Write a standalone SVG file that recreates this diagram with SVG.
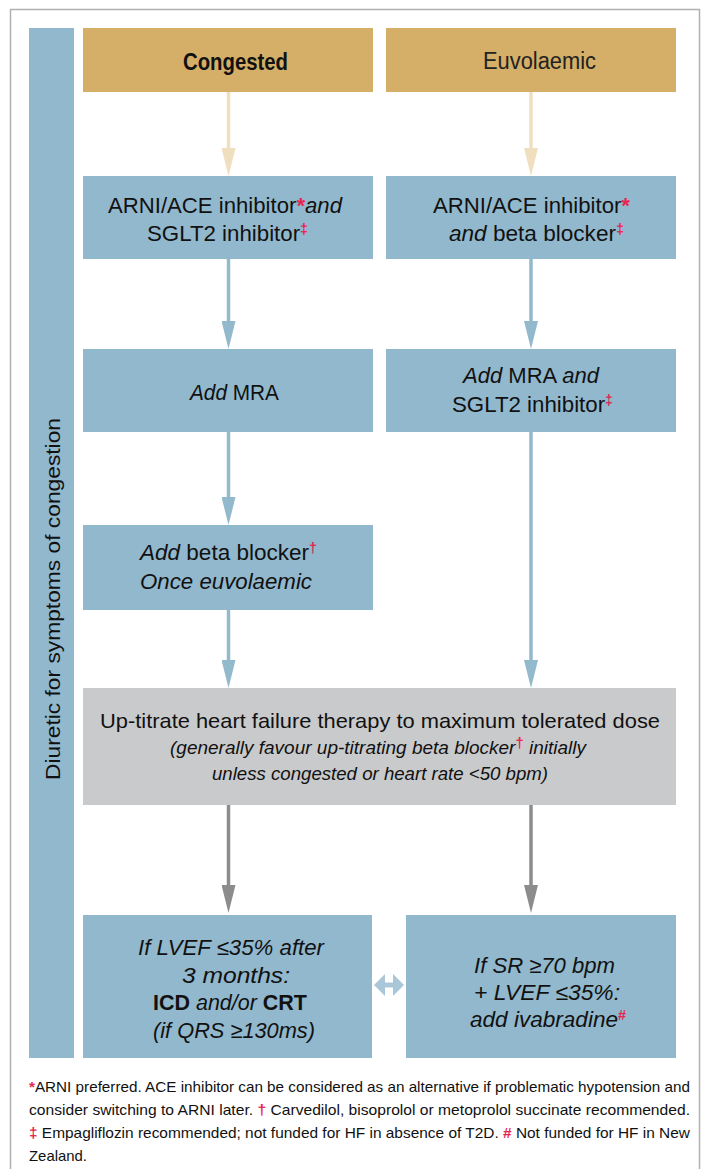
<svg xmlns="http://www.w3.org/2000/svg" width="705" height="1169" viewBox="0 0 705 1169">
<style>
.t{font-family:"Liberation Sans",Arial,sans-serif;fill:#111;font-size:22px}
.hd{font-size:23px}
.i{font-style:italic}
.bd{font-weight:bold}
.r{fill:#e52651;font-weight:bold}
.sup{font-size:14px;fill:#e52651;font-weight:bold;font-style:normal}
.gs{font-size:18px;font-style:italic}
.fn{font-size:15px}
.blue{fill:#91b8cd}
.tan{fill:#d5ae67}
.gray{fill:#c9cacc}
</style>
<defs>
<marker id="hTan" viewBox="0 -7 28 14" refX="4" refY="0" markerWidth="28" markerHeight="14" markerUnits="userSpaceOnUse" orient="auto"><path d="M0,-7 L28,0 L0,7 z" fill="#efdfbf"/></marker>
<marker id="hBlue" viewBox="0 -7 28 14" refX="4" refY="0" markerWidth="28" markerHeight="14" markerUnits="userSpaceOnUse" orient="auto"><path d="M0,-7 L28,0 L0,7 z" fill="#93b9cd"/></marker>
<marker id="hGray" viewBox="0 -7 28 14" refX="4" refY="0" markerWidth="28" markerHeight="14" markerUnits="userSpaceOnUse" orient="auto"><path d="M0,-7 L28,0 L0,7 z" fill="#8c8c8c"/></marker>
<marker id="hDbl" viewBox="0 -11 11 22" refX="2" refY="0" markerWidth="11" markerHeight="22" markerUnits="userSpaceOnUse" orient="auto-start-reverse"><path d="M0,-11 L11,0 L0,11 z" fill="#a9c7d8"/></marker>
</defs>
<rect x="10.5" y="9.5" width="689" height="1180" fill="#fff" stroke="#b0b0b0" stroke-width="1.5"/>

<g id="sidebar">
<rect x="29" y="28" width="45" height="1030" class="blue"/>
<text class="t" text-anchor="middle" textLength="362" lengthAdjust="spacingAndGlyphs" transform="translate(60,599) rotate(-90)" style="font-size:21px">Diuretic for symptoms of congestion</text>
</g>

<g id="connectors" fill="none">
<line x1="228.5" y1="92" x2="228.5" y2="152" stroke="#efdfbf" stroke-width="3.5" marker-end="url(#hTan)"/>
<line x1="531" y1="92" x2="531" y2="152" stroke="#efdfbf" stroke-width="3.5" marker-end="url(#hTan)"/>
<line x1="228.5" y1="259" x2="228.5" y2="325" stroke="#93b9cd" stroke-width="3.5" marker-end="url(#hBlue)"/>
<line x1="531" y1="259" x2="531" y2="325" stroke="#93b9cd" stroke-width="3.5" marker-end="url(#hBlue)"/>
<line x1="228.5" y1="432" x2="228.5" y2="501" stroke="#93b9cd" stroke-width="3.5" marker-end="url(#hBlue)"/>
<line x1="228.5" y1="610" x2="228.5" y2="664" stroke="#93b9cd" stroke-width="3.5" marker-end="url(#hBlue)"/>
<line x1="531" y1="432" x2="531" y2="664" stroke="#93b9cd" stroke-width="3.5" marker-end="url(#hBlue)"/>
<line x1="228.5" y1="805" x2="228.5" y2="889" stroke="#8c8c8c" stroke-width="3.5" marker-end="url(#hGray)"/>
<line x1="531" y1="805" x2="531" y2="889" stroke="#8c8c8c" stroke-width="3.5" marker-end="url(#hGray)"/>
<line x1="383" y1="985" x2="395" y2="985" stroke="#a9c7d8" stroke-width="5" marker-start="url(#hDbl)" marker-end="url(#hDbl)"/>
</g>

<g id="congested">
<rect x="83" y="28" width="290" height="64" class="tan"/>
<text class="t hd bd" x="183" y="70" textLength="105" lengthAdjust="spacingAndGlyphs">Congested</text>
</g>
<g id="euvolaemic">
<rect x="386" y="28" width="290" height="64" class="tan"/>
<text class="t hd" x="483" y="69" textLength="113" lengthAdjust="spacingAndGlyphs" style="fill:#222">Euvolaemic</text>
</g>

<g id="arni-left">
<rect x="83" y="176" width="290" height="83" class="blue"/>
<text class="t" x="108" y="213" textLength="234" lengthAdjust="spacingAndGlyphs">ARNI/ACE inhibitor<tspan class="r">*</tspan><tspan class="i">and</tspan></text>
<text class="t" x="147" y="241" textLength="161" lengthAdjust="spacingAndGlyphs">SGLT2 inhibitor<tspan class="sup" dy="-7">‡</tspan></text>
</g>
<g id="arni-right">
<rect x="386" y="176" width="290" height="83" class="blue"/>
<text class="t" x="433" y="213" textLength="197" lengthAdjust="spacingAndGlyphs">ARNI/ACE inhibitor<tspan class="r">*</tspan></text>
<text class="t" x="449" y="241" textLength="175" lengthAdjust="spacingAndGlyphs"><tspan class="i">and</tspan> beta blocker<tspan class="sup" dy="-7">‡</tspan></text>
</g>

<g id="mra-left">
<rect x="83" y="349" width="290" height="83" class="blue"/>
<text class="t" x="190" y="400" textLength="89" lengthAdjust="spacingAndGlyphs"><tspan class="i">Add</tspan> MRA</text>
</g>
<g id="mra-right">
<rect x="386" y="349" width="290" height="83" class="blue"/>
<text class="t" x="463" y="383" textLength="136" lengthAdjust="spacingAndGlyphs"><tspan class="i">Add</tspan> MRA <tspan class="i">and</tspan></text>
<text class="t" x="452" y="412" textLength="161" lengthAdjust="spacingAndGlyphs">SGLT2 inhibitor<tspan class="sup" dy="-7">‡</tspan></text>
</g>

<g id="beta-left">
<rect x="83" y="525" width="290" height="85" class="blue"/>
<text class="t" x="140" y="560" textLength="177" lengthAdjust="spacingAndGlyphs"><tspan class="i">Add</tspan> beta blocker<tspan class="sup" dy="-7">†</tspan></text>
<text class="t i" x="140" y="589" textLength="172" lengthAdjust="spacingAndGlyphs">Once euvolaemic</text>
</g>

<g id="uptitrate">
<rect x="83" y="688" width="593" height="117" class="gray"/>
<text class="t" x="100" y="728" textLength="560" lengthAdjust="spacingAndGlyphs" style="font-size:21px">Up-titrate heart failure therapy to maximum tolerated dose</text>
<text class="t gs" x="170" y="754" textLength="416" lengthAdjust="spacingAndGlyphs">(generally favour up-titrating beta blocker<tspan class="sup" dy="-6">†</tspan><tspan dy="6"> initially</tspan></text>
<text class="t gs" x="212" y="780" textLength="336" lengthAdjust="spacingAndGlyphs">unless congested or heart rate &lt;50 bpm)</text>
</g>

<g id="icd-crt">
<rect x="83" y="915" width="289" height="143" class="blue"/>
<text class="t i" x="138" y="955" textLength="186" lengthAdjust="spacingAndGlyphs">If LVEF ≤35% after</text>
<text class="t i" x="182" y="983" textLength="108" lengthAdjust="spacingAndGlyphs">3 months:</text>
<text class="t" x="153" y="1010" textLength="154" lengthAdjust="spacingAndGlyphs"><tspan class="bd">ICD</tspan> <tspan class="i">and/or</tspan> <tspan class="bd">CRT</tspan></text>
<text class="t i" x="153" y="1038" textLength="162" lengthAdjust="spacingAndGlyphs">(if QRS ≥130ms)</text>
</g>

<g id="ivabradine">
<rect x="406" y="915" width="270" height="143" class="blue"/>
<text class="t i" x="474" y="973" textLength="141" lengthAdjust="spacingAndGlyphs">If SR ≥70 bpm</text>
<text class="t i" x="474" y="1000" textLength="146" lengthAdjust="spacingAndGlyphs">+ LVEF ≤35%:</text>
<text class="t i" x="470" y="1027" textLength="156" lengthAdjust="spacingAndGlyphs">add ivabradine<tspan class="sup" dy="-7">#</tspan></text>
</g>

<g id="footnote">
<text class="t fn" x="29" y="1092" textLength="661" lengthAdjust="spacingAndGlyphs"><tspan class="r">*</tspan>ARNI preferred. ACE inhibitor can be considered as an alternative if problematic hypotension and</text>
<text class="t fn" x="29" y="1115" textLength="661" lengthAdjust="spacingAndGlyphs">consider switching to ARNI later. <tspan class="r">†</tspan> Carvedilol, bisoprolol or metoprolol succinate recommended.</text>
<text class="t fn" x="29" y="1138" textLength="661" lengthAdjust="spacingAndGlyphs"><tspan class="r">‡</tspan> Empagliflozin recommended; not funded for HF in absence of T2D. <tspan class="r">#</tspan> Not funded for HF in New</text>
<text class="t fn" x="29" y="1161" textLength="58" lengthAdjust="spacingAndGlyphs">Zealand.</text>
</g>
</svg>
